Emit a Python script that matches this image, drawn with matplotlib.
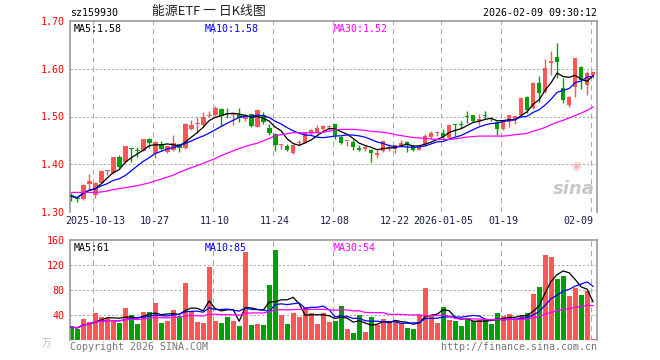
import numpy as np
import pandas as pd
import matplotlib
matplotlib.use("Agg")
import matplotlib.pyplot as plt

# daily candles, 2025-09-29 .. 2026-02-09 (88 sessions)
opens = [1.334, 1.330, 1.328, 1.359, 1.336, 1.361, 1.385, 1.382, 1.416, 1.405,
         1.434, 1.429, 1.428, 1.453, 1.424, 1.442, 1.426, 1.430, 1.442, 1.433,
         1.473, 1.485, 1.483, 1.502, 1.503, 1.515, 1.508, 1.504, 1.505, 1.494,
         1.505, 1.479, 1.503, 1.475, 1.463, 1.441, 1.438, 1.424, 1.444, 1.445,
         1.466, 1.468, 1.473, 1.479, 1.484, 1.457, 1.448, 1.447, 1.435, 1.431,
         1.430, 1.419, 1.428, 1.434, 1.431, 1.438, 1.447, 1.438, 1.430, 1.440,
         1.4565, 1.465, 1.466, 1.455, 1.483, 1.484, 1.501, 1.503, 1.491, 1.503,
         1.495, 1.489, 1.473, 1.489, 1.494, 1.503, 1.541, 1.517, 1.571, 1.552,
         1.611, 1.625, 1.560, 1.524, 1.561, 1.604, 1.566, 1.587]
highs = [1.339, 1.331, 1.358, 1.380, 1.362, 1.387, 1.389, 1.416, 1.420, 1.439,
         1.435, 1.436, 1.453, 1.454, 1.448, 1.449, 1.439, 1.462, 1.443, 1.486,
         1.493, 1.500, 1.509, 1.512, 1.523, 1.517, 1.517, 1.508, 1.517, 1.505,
         1.506, 1.515, 1.510, 1.485, 1.465, 1.443, 1.442, 1.442, 1.451, 1.467,
         1.474, 1.482, 1.482, 1.483, 1.485, 1.459, 1.449, 1.453, 1.441, 1.441,
         1.431, 1.430, 1.451, 1.442, 1.440, 1.450, 1.448, 1.440, 1.441, 1.463,
         1.470, 1.470, 1.473, 1.483, 1.484, 1.490, 1.512, 1.504, 1.506, 1.511,
         1.498, 1.490, 1.493, 1.503, 1.501, 1.540, 1.542, 1.572, 1.585, 1.620,
         1.638, 1.653, 1.580, 1.543, 1.623, 1.605, 1.596, 1.596]
lows = [1.322, 1.320, 1.325, 1.346, 1.329, 1.360, 1.377, 1.380, 1.393, 1.403,
        1.405, 1.416, 1.427, 1.434, 1.413, 1.429, 1.424, 1.428, 1.425, 1.432,
        1.471, 1.466, 1.481, 1.500, 1.501, 1.480, 1.496, 1.482, 1.488, 1.490,
        1.478, 1.477, 1.485, 1.461, 1.428, 1.432, 1.428, 1.422, 1.438, 1.445,
        1.462, 1.465, 1.469, 1.472, 1.452, 1.442, 1.438, 1.430, 1.428, 1.428,
        1.405, 1.413, 1.425, 1.428, 1.423, 1.436, 1.426, 1.427, 1.429, 1.438,
        1.453, 1.459, 1.452, 1.453, 1.459, 1.475, 1.486, 1.488, 1.482, 1.494,
        1.490, 1.461, 1.472, 1.479, 1.485, 1.502, 1.508, 1.516, 1.531, 1.549,
        1.587, 1.580, 1.528, 1.519, 1.541, 1.557, 1.545, 1.580]
closes = [1.333, 1.327, 1.357, 1.365, 1.361, 1.385, 1.387, 1.415, 1.395, 1.438,
          1.432, 1.428, 1.453, 1.444, 1.447, 1.431, 1.438, 1.444, 1.433, 1.485,
          1.482, 1.487, 1.500, 1.504, 1.517, 1.501, 1.506, 1.506, 1.496, 1.503,
          1.481, 1.514, 1.489, 1.465, 1.440, 1.442, 1.430, 1.440, 1.446, 1.466,
          1.472, 1.476, 1.480, 1.480, 1.461, 1.444, 1.449, 1.437, 1.430, 1.437,
          1.424, 1.424, 1.449, 1.436, 1.440, 1.445, 1.440, 1.430, 1.437, 1.459,
          1.466, 1.467, 1.458, 1.482, 1.482, 1.483, 1.500, 1.491, 1.494, 1.502,
          1.494, 1.474, 1.493, 1.503, 1.501, 1.539, 1.514, 1.571, 1.550, 1.602,
          1.617, 1.615, 1.535, 1.541, 1.623, 1.577, 1.592, 1.594]
# MA30 of price as drawn (needs history before the window)
ma30_price = [1.341, 1.341, 1.341, 1.341, 1.341, 1.342, 1.344, 1.347, 1.349, 1.351,
              1.353, 1.355, 1.358, 1.361, 1.365, 1.369, 1.373, 1.377, 1.383, 1.388,
              1.393, 1.397, 1.402, 1.407, 1.412, 1.418, 1.423, 1.428, 1.433, 1.437,
              1.441, 1.444, 1.449, 1.454, 1.460, 1.462, 1.464, 1.466, 1.466, 1.466,
              1.466, 1.466, 1.467, 1.469, 1.472, 1.473, 1.473, 1.473, 1.472, 1.471,
              1.469, 1.468, 1.467, 1.465, 1.462, 1.460, 1.458, 1.456, 1.455, 1.454,
              1.453, 1.452, 1.452, 1.452, 1.453, 1.455, 1.457, 1.458, 1.459, 1.459,
              1.459, 1.459, 1.459, 1.460, 1.462, 1.463, 1.465, 1.469, 1.473, 1.477,
              1.483, 1.488, 1.492, 1.497, 1.502, 1.507, 1.513, 1.520]
volumes = [21, 17.6, 33.6, 28.8, 43.2, 36.8, 36, 32, 26.7, 51.2,
           40, 26, 44.8, 45.3, 59.2, 27.7, 30.9, 48, 38.4, 91.7,
           46.4, 29.3, 27.7, 117.3, 30.9, 27.7, 37.3, 30.9, 22.9, 141.3,
           24.5, 25.6, 24, 88, 144, 40, 25.6, 43.7, 36.8, 52.3,
           43.7, 25.6, 43.2, 28.8, 30.9, 54.4, 17.6, 11.2, 40, 13.3,
           36.8, 24, 33.6, 30.4, 32.5, 26.7, 19.2, 17.6, 40, 83.2,
           38.4, 27.2, 53.3, 32, 30.4, 22.4, 34.7, 30.9, 32, 32,
           25.6, 43.2, 38.4, 41.6, 32.5, 38.4, 43.2, 73.6, 84.3, 136,
           132.3, 97, 102.4, 70.4, 83.2, 72, 78.4, 1.6]

tick_idx = [4, 14, 24, 34, 44, 54, 62, 72, 87]
tick_lab = ["2025-10-13", "10-27", "11-10", "11-24", "12-08", "12-22",
            "2026-01-05", "01-19", "02-09"]
price_ticks = [1.30, 1.40, 1.50, 1.60, 1.70]
vol_ticks = [40, 80, 120, 160]

RED = "#ff5555"
GREEN = "#00a000"
GRID = "#aaaaaa"
MONO = ["DejaVu Sans Mono"]
FS = 7.2

W, H = 660, 360


def box(l, t, r, b):
    return [l / W, 1 - b / H, (r - l) / W, (b - t) / H]


def style_panel(a):
    for s in ["left", "top", "right"]:
        a.spines[s].set_color("#999999")
        a.spines[s].set_linewidth(1.2)
    a.spines["bottom"].set_visible(False)
    a.tick_params(axis="y", length=0, pad=4, labelcolor="red", labelsize=FS)
    for lab in a.get_yticklabels():
        lab.set_family(MONO)
    for i in tick_idx:
        a.axvline(i - 0.3, color=GRID, lw=0.75, ls=(0, (5, 4)), zorder=0)


def main():
    n = len(closes)
    x = np.arange(n)
    o = np.array(opens)
    c = np.array(closes)
    up = c >= o
    cols = [RED if u else GREEN for u in up]

    fig = plt.figure(figsize=(6.6, 3.6), dpi=100)
    ax = fig.add_axes(box(70, 21, 597, 212))
    axv = fig.add_axes(box(70, 240, 597, 340))

    # price panel
    ax.vlines(x, lows, highs, colors=cols, lw=1.0, zorder=2)
    bottom = np.minimum(o, c)
    height = np.maximum(np.abs(c - o), 0.0018)
    ax.bar(x, height, bottom=bottom, width=0.78, color=cols, lw=0, zorder=3)
    s = pd.Series(closes)
    ax.plot(x, s.rolling(5, min_periods=1).mean(), color="black", lw=0.9, zorder=4)
    ax.plot(x, s.rolling(10, min_periods=1).mean(), color="#0000ff", lw=0.9, zorder=4)
    ax.plot(x, ma30_price, color="#ff00ff", lw=0.9, zorder=4)
    ax.set_xlim(-0.2, n - 1 + 0.65)
    ax.set_ylim(1.30, 1.70)
    ax.set_yticks(price_ticks)
    ax.set_yticklabels(["%.2f" % v for v in price_ticks])
    for v in price_ticks[1:-1]:
        ax.axhline(v, color=GRID, lw=0.75, ls=(0, (2, 2)), zorder=0)
    ax.set_xticks(tick_idx)
    ax.set_xticklabels(tick_lab, family=MONO, fontsize=FS, color="#1a1a4a")
    ax.get_xticklabels()[-1].set_horizontalalignment("right")
    ax.tick_params(axis="x", length=0, pad=3)
    style_panel(ax)

    ax.text(4 / 527, 0.985, "MA5:1.58", transform=ax.transAxes, family=MONO,
            fontsize=FS, color="black", va="top")
    ax.text(135 / 527, 0.985, "MA10:1.58", transform=ax.transAxes, family=MONO,
            fontsize=FS, color="#0000ff", va="top")
    ax.text(264 / 527, 0.985, "MA30:1.52", transform=ax.transAxes, family=MONO,
            fontsize=FS, color="#ff00ff", va="top")
    ax.text(0.955, 0.12, "sina", transform=ax.transAxes, fontsize=13,
            fontweight="bold", style="italic", color="#c8c8c8", ha="center",
            va="center", zorder=1)
    ax.text(0.96, 0.24, "◉", transform=ax.transAxes, fontsize=8,
            color="#f4b8b8", ha="center", va="center", zorder=1)

    # volume panel
    axv.bar(x, volumes, width=0.8, color=cols, lw=0, zorder=2)
    sv = pd.Series(volumes)
    axv.plot(x, sv.rolling(5, min_periods=1).mean(), color="black", lw=0.9, zorder=4)
    axv.plot(x, sv.rolling(10, min_periods=1).mean(), color="#0000ff", lw=0.9, zorder=4)
    axv.plot(x, sv.rolling(30, min_periods=1).mean(), color="#ff00ff", lw=0.9, zorder=4)
    axv.set_xlim(-0.2, n - 1 + 0.65)
    axv.set_ylim(0, 160)
    axv.set_yticks(vol_ticks)
    axv.set_yticklabels([str(v) for v in vol_ticks])
    for v in vol_ticks[:-1]:
        axv.axhline(v, color=GRID, lw=0.75, ls=(0, (2, 2)), zorder=0)
    axv.set_xticks([])
    style_panel(axv)

    axv.text(4 / 527, 0.97, "MA5:61", transform=axv.transAxes, family=MONO,
             fontsize=FS, color="black", va="top")
    axv.text(135 / 527, 0.97, "MA10:85", transform=axv.transAxes, family=MONO,
             fontsize=FS, color="#0000ff", va="top")
    axv.text(264 / 527, 0.97, "MA30:54", transform=axv.transAxes, family=MONO,
             fontsize=FS, color="#ff00ff", va="top")

    # header and footer
    fig.text(70 / W, 1 - 13 / H, "sz159930", family=MONO, fontsize=FS,
             va="center", ha="left")
    fig.text(209 / W, 1 - 12 / H, "能源ETF 一 日K线图",
             family=["Noto Sans CJK SC", "DejaVu Sans"], fontsize=9.3,
             va="center", ha="center", color="#222222")
    fig.text(597 / W, 1 - 13 / H, "2026-02-09 09:30:12", family=MONO,
             fontsize=FS, va="center", ha="right")
    fig.text(70 / W, 1 - 347 / H, "Copyright 2026 SINA.COM", family=MONO,
             fontsize=FS, va="center", ha="left", color="#777777")
    fig.text(597 / W, 1 - 347 / H, "http://finance.sina.com.cn", family=MONO,
             fontsize=FS, va="center", ha="right", color="#777777")
    fig.text(47 / W, 1 - 343 / H, "万",
             family=["Noto Sans CJK SC", "DejaVu Sans"], fontsize=7,
             va="center", ha="center", color="#bbbbbb")

    fig.savefig("out.png", dpi=100)


if __name__ == "__main__":
    main()
